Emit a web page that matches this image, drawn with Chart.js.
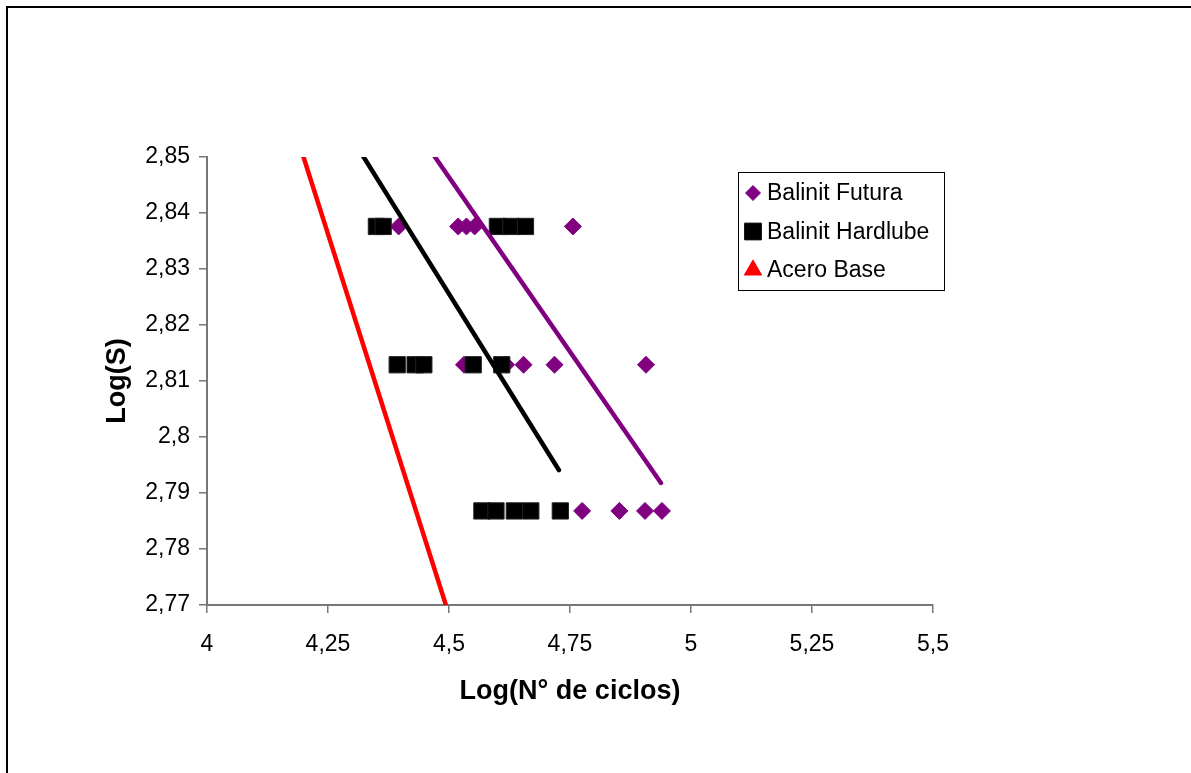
<!DOCTYPE html>
<html lang="es">
<head>
<meta charset="utf-8">
<title>Log(S) vs Log(N° de ciclos)</title>
<script src="https://cdn.jsdelivr.net/npm/chart.js@4/dist/chart.umd.min.js"></script>
<style>
  html, body { margin: 0; padding: 0; background: #fff; }
  #wrap { position: relative; width: 1191px; height: 773px; overflow: hidden; }
  #frame { position: absolute; left: 6px; top: 6px; width: 2000px; height: 2000px;
           border-left: 2px solid #000; border-top: 2px solid #000; pointer-events: none; }
  canvas { position: absolute; left: 0; top: 0; }
</style>
</head>
<body>
<div id="wrap">
  <canvas id="chart" width="1191" height="773"></canvas>
  <div id="frame"></div>
</div>
<script>
// Series names
const seriesNames = ['Balinit Futura', 'Balinit Hardlube', 'Acero Base'];

// Balinit Futura: Log(N° de ciclos) / Log(S)
const futuraX = [4.396, 4.519, 4.536, 4.553, 4.756,
                 4.531, 4.618, 4.654, 4.718, 4.907,
                 4.775, 4.852, 4.905, 4.940];
const futuraY = [2.8376, 2.8376, 2.8376, 2.8376, 2.8376,
                 2.8129, 2.8129, 2.8129, 2.8129, 2.8129,
                 2.7868, 2.7868, 2.7868, 2.7868];

// Balinit Hardlube
const hardlubeX = [4.350, 4.364, 4.600, 4.628, 4.658,
                   4.393, 4.430, 4.448, 4.550, 4.609,
                   4.568, 4.597, 4.635, 4.669, 4.730];
const hardlubeY = [2.8376, 2.8376, 2.8376, 2.8376, 2.8376,
                   2.8129, 2.8129, 2.8129, 2.8129, 2.8129,
                   2.7868, 2.7868, 2.7868, 2.7868, 2.7868];

// Acero Base: no points fall inside the plotted range
const aceroX = [];
const aceroY = [];

// Linear trend lines (end points)
const trendFuturaX = [4.447, 4.938];
const trendFuturaY = [2.853, 2.7918];
const trendHardlubeX = [4.302, 4.727];
const trendHardlubeY = [2.853, 2.7941];
const trendAceroX = [4.181, 4.512];
const trendAceroY = [2.855, 2.765];

// Axis ticks
const xTicks = [4, 4.25, 4.5, 4.75, 5, 5.25, 5.5];
const yTicks = [2.77, 2.78, 2.79, 2.80, 2.81, 2.82, 2.83, 2.84, 2.85];

const colors = { futura: '#800080', hardlube: '#000000', acero: '#FF0000' };
const FONT = "'Liberation Sans', Arial, sans-serif";

const pts = (xs, ys) => xs.map((x, i) => ({ x, y: ys[i] }));
const fmt = v => String(Number(v.toFixed(2))).replace('.', ',');

function trendDataset(label, xs, ys, color) {
  return {
    label, trend: true, data: pts(xs, ys), showLine: true,
    borderColor: color, backgroundColor: color, borderWidth: 4.5,
    borderCapStyle: 'round', pointRadius: 0, pointHoverRadius: 0,
    clip: 0, order: 0
  };
}

function markerPoint(ctx, style, x, y, r, color) {
  if (Chart.helpers && Chart.helpers.drawPoint) {
    ctx.fillStyle = color; ctx.strokeStyle = color; ctx.lineWidth = 1;
    Chart.helpers.drawPoint(ctx, { pointStyle: style, radius: r, rotation: 0, borderWidth: 1 }, x, y);
    return;
  }
  ctx.fillStyle = color;
  ctx.beginPath();
  if (style === 'rectRot') {
    ctx.moveTo(x, y - r); ctx.lineTo(x + r, y); ctx.lineTo(x, y + r); ctx.lineTo(x - r, y);
  } else if (style === 'rect') {
    const s = r * Math.SQRT1_2; ctx.rect(x - s, y - s, 2 * s, 2 * s);
  } else {
    ctx.moveTo(x, y - r); ctx.lineTo(x + r * 0.866, y + r / 2); ctx.lineTo(x - r * 0.866, y + r / 2);
  }
  ctx.closePath(); ctx.fill();
}

// Boxed legend inside the figure, right of the plot
const boxLegend = {
  id: 'boxLegend',
  afterDraw(chart, args, opts) {
    const ctx = chart.ctx;
    const { left, top, width, height, rowY, markerX, textX, radii } = opts;
    ctx.save();
    ctx.fillStyle = '#fff';
    ctx.fillRect(left, top, width, height);
    ctx.strokeStyle = '#000'; ctx.lineWidth = 1;
    ctx.strokeRect(left + 0.5, top + 0.5, width, height);
    const entries = chart.data.datasets.filter(d => !d.trend);
    entries.forEach((d, i) => {
      const y = top + rowY[i];
      markerPoint(ctx, d.pointStyle, left + markerX, y, radii[i], d.backgroundColor);
      ctx.fillStyle = '#000';
      ctx.font = `23px ${FONT}`;
      ctx.textAlign = 'left'; ctx.textBaseline = 'middle';
      ctx.fillText(d.label, left + textX, y + 1);
    });
    ctx.restore();
  }
};

new Chart(document.getElementById('chart'), {
  type: 'scatter',
  data: {
    datasets: [
      trendDataset('Tendencia Futura', trendFuturaX, trendFuturaY, colors.futura),
      trendDataset('Tendencia Hardlube', trendHardlubeX, trendHardlubeY, colors.hardlube),
      trendDataset('Tendencia Acero', trendAceroX, trendAceroY, colors.acero),
      {
        label: seriesNames[0], data: pts(futuraX, futuraY), pointStyle: 'rectRot',
        pointRadius: 8.5, borderWidth: 1, borderColor: colors.futura,
        backgroundColor: colors.futura, order: 2
      },
      {
        label: seriesNames[1], data: pts(hardlubeX, hardlubeY), pointStyle: 'rect',
        pointRadius: 11.5, borderWidth: 1, borderColor: '#222',
        backgroundColor: colors.hardlube, order: 1
      },
      {
        label: seriesNames[2], data: pts(aceroX, aceroY), pointStyle: 'triangle',
        pointRadius: 9, borderWidth: 1, borderColor: colors.acero,
        backgroundColor: colors.acero, order: 3
      }
    ]
  },
  options: {
    responsive: false,
    animation: false,
    events: [],
    layout: { padding: { left: 0, top: 157, right: 258, bottom: 48 } },
    plugins: {
      legend: { display: false },
      tooltip: { enabled: false },
      boxLegend: {
        left: 738, top: 172, width: 206, height: 118,
        rowY: [21, 59.5, 98], markerX: 15, textX: 29,
        radii: [7.5, 11.8, 10]
      }
    },
    scales: {
      x: {
        type: 'linear', position: 'bottom', min: 4, max: 5.5,
        afterFit: s => { s.height = 120; },
        afterBuildTicks: s => { s.ticks = xTicks.map(v => ({ value: v })); },
        ticks: { callback: v => fmt(v), color: '#000', padding: 18,
                 font: { family: FONT, size: 23 }, maxRotation: 0 },
        grid: { drawOnChartArea: false, drawTicks: true, tickLength: 8,
                color: '#777', lineWidth: 1.5 },
        border: { display: true, color: '#777', width: 2 },
        title: { display: true, text: 'Log(N° de ciclos)', color: '#000',
                 font: { family: FONT, size: 27, weight: 'bold', lineHeight: 1.2 },
                 padding: { top: 0, bottom: 17 } }
      },
      y: {
        type: 'linear', position: 'left', min: 2.77, max: 2.85,
        afterFit: s => { s.width = 207; },
        afterBuildTicks: s => { s.ticks = yTicks.map(v => ({ value: v })); },
        ticks: { callback: v => fmt(v), color: '#000', padding: 9,
                 font: { family: FONT, size: 23 } },
        grid: { drawOnChartArea: false, drawTicks: true, tickLength: 8,
                color: '#777', lineWidth: 1.5 },
        border: { display: true, color: '#777', width: 2 },
        title: { display: true, text: 'Log(S)', color: '#000',
                 font: { family: FONT, size: 27, weight: 'bold', lineHeight: 1.2 },
                 padding: { top: 101, bottom: 0 } }
      }
    }
  },
  plugins: [boxLegend]
});
</script>
</body>
</html>
